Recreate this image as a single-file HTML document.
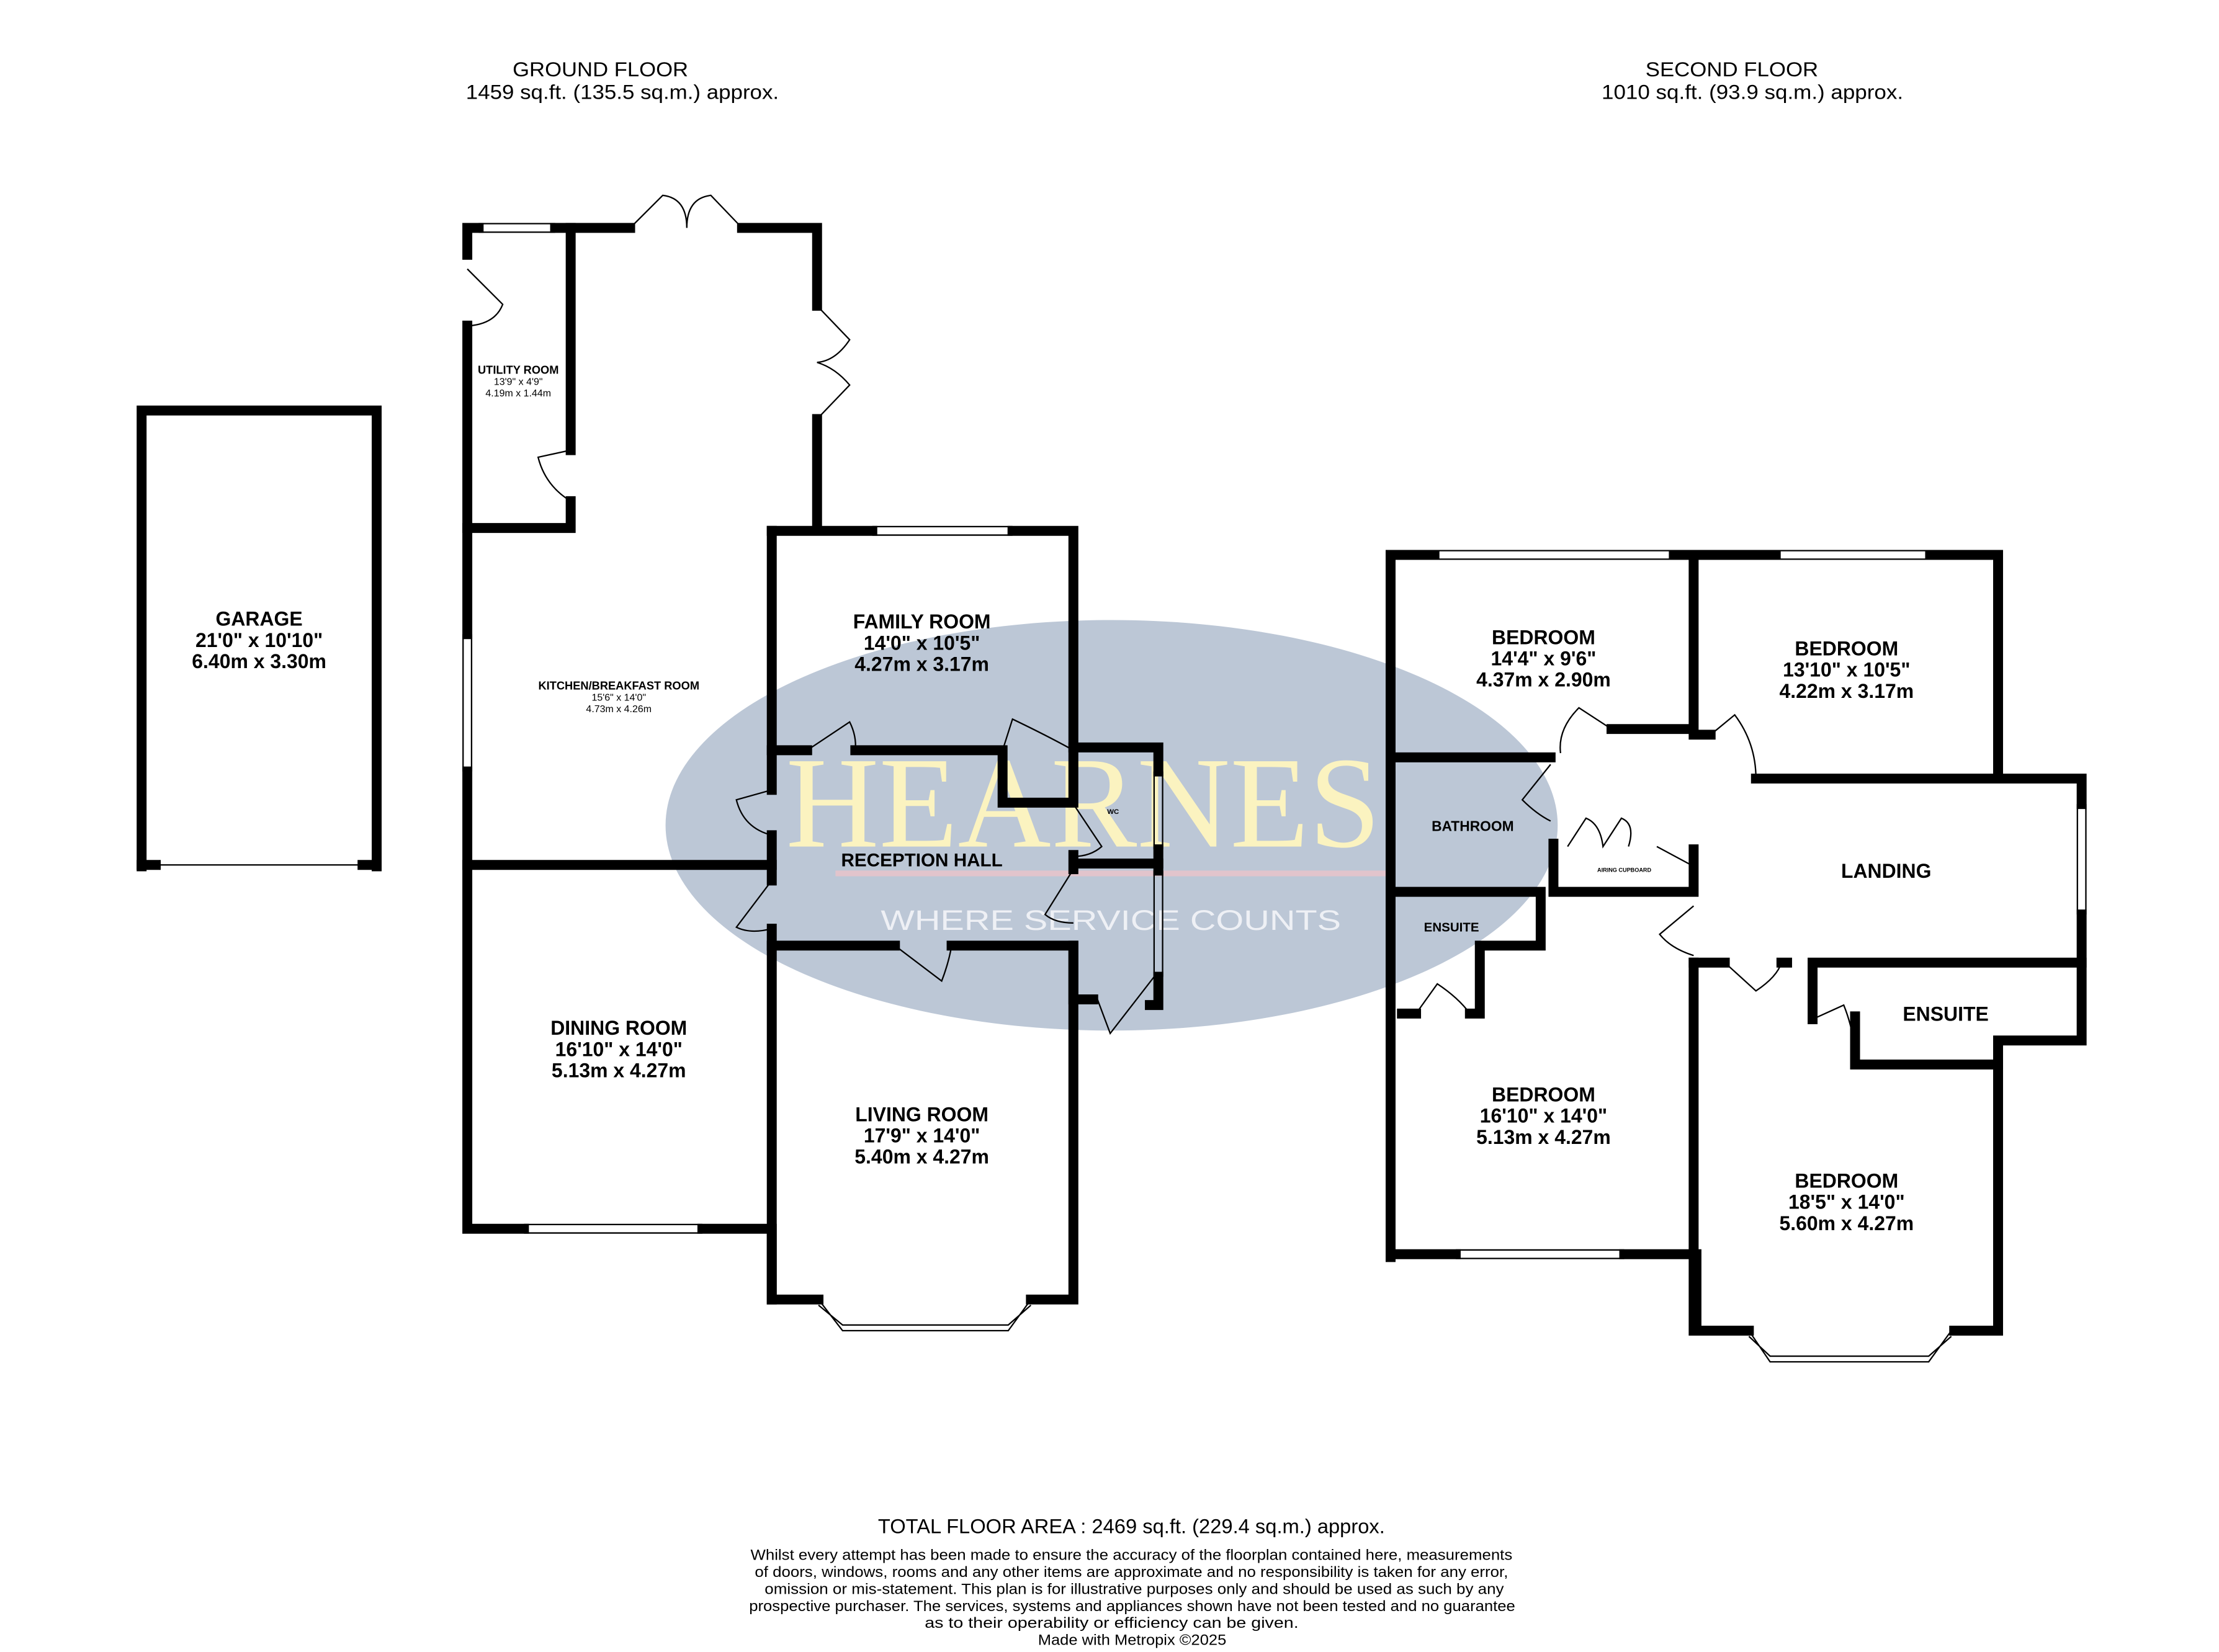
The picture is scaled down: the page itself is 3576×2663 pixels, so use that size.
<!DOCTYPE html>
<html><head><meta charset="utf-8"><style>
html,body{margin:0;padding:0;background:#fff}
svg{display:block}
text{font-family:"Liberation Sans",sans-serif;fill:#000}
.b{font-weight:bold;font-size:14px}
</style></head><body>
<svg width="3576" height="2663" viewBox="0 0 1567 1167" preserveAspectRatio="none" xmlns="http://www.w3.org/2000/svg">
<rect width="1567" height="1167" fill="#fff"/>
<!-- watermark -->
<ellipse cx="785" cy="583" rx="315" ry="145" fill="#bcc7d6"/>
<text x="555" y="598" textLength="420" lengthAdjust="spacingAndGlyphs" style="font-family:'Liberation Serif',serif;font-size:92px;fill:#fbf3c0">HEARNES</text>
<rect x="590" y="615" width="390" height="4" fill="#e2c4cc"/>
<text x="622" y="657" textLength="325" lengthAdjust="spacingAndGlyphs" style="font-size:20px;fill:#eef0f5">WHERE SERVICE COUNTS</text>

<g stroke="#000" stroke-width="7" fill="none" stroke-linecap="square">
<path d="M100 612 V290 H266 V612"/>
<path d="M100 611 H110 M256 611 H266"/>
<path d="M330 180 V161 H338"/>
<path d="M392 161 H445 M524 161 H577 V216"/>
<path d="M577 296 V373"/>
<path d="M330 230 V448 M330 545 V868 H370 M496 868 H545 V918 H578"/>
<path d="M728 918 H758 V668"/>
<path d="M403 161 V318 M403 354 V373 H330"/>
<path d="M330 611 H545"/>
<path d="M545 375 V558 M545 590 V622 M545 656 V918"/>
<path d="M545 375 H616 M715 375 H758 V528"/>
<path d="M545 530 H570 M604 530 H708 V567 H758 V528 H818 V545 M818 600 V615 M818 690 V710 H812"/>
<path d="M758 610 H818 M758 604 V614"/>
<path d="M545 668 H632 M672 668 H758 M758 668 V700 M758 706 H772"/>
<path d="M982 888 V392 H1013 M1182 392 H1254 M1363 392 H1411 V550 H1470 V568 M1470 646 V735 H1411 V940 H1380"/>
<path d="M1235 940 H1198 V886 H1147 M1028 886 H982"/>
<path d="M1196 392 V515 H1138 M1196 515 V519 H1208 M1240 550 H1411"/>
<path d="M982 535 H1095 M982 630 H1088 V668 H1045 V716 H1038"/>
<path d="M1000 716 H990"/>
<path d="M1196 600 V630 H1097 V596 M1196 680 V940"/>
<path d="M1280 680 H1470 M1280 680 V720 M1310 718 V752 H1411"/>
<path d="M1196 680 H1218"/>
<path d="M1258 680 H1262"/>
</g>
<g stroke="#000" stroke-width="1" fill="none">
<path d="M112 611 H254"/>
<path d="M338 158 H392 M338 164 H392"/>
<path d="M327 448 V545 M333 448 V545"/>
<path d="M616 372 H715 M616 378 H715"/>
<path d="M370 865 H496 M370 871 H496"/>
<path d="M815 545 V600 M821 545 V600 M815 615 V690 M821 615 V690"/>
<path d="M578 918 L595 940 H712 L728 918 M578 922 L595 936 H712 L728 922"/>
<path d="M1013 389 H1182 M1013 395 H1182 M1254 389 H1363 M1254 395 H1363"/>
<path d="M1467 568 V646 M1473 568 V646"/>
<path d="M979 545 V625 M985 545 V625 M979 650 V712 M985 650 V712"/>
<path d="M1028 883 H1147 M1028 889 H1147"/>
<path d="M1235 940 L1250 962 H1362 L1378 940 M1235 944 L1250 958 H1362 L1378 944"/>
<path d="M445 161 L468 138 Q485 140 485 161 Q485 140 502 138 L524 161"/>
<path d="M577 216 L600 240 Q590 255 577 256 Q590 260 600 272 L577 296"/>
<path d="M330 190 L355 215 Q350 228 333 230"/>
<path d="M403 318 L380 323 Q385 343 403 354"/>
<path d="M570 530 L600 510 Q605 520 604 530"/>
<path d="M708 530 L715 508 Q740 520 758 530"/>
<path d="M545 558 L520 565 Q525 585 545 590"/>
<path d="M545 622 L520 655 Q530 660 545 656"/>
<path d="M632 668 L665 693 Q670 680 672 668"/>
<path d="M758 614 L738 646 Q745 652 758 652"/>
<path d="M758 568 L778 598 Q770 605 758 605"/>
<path d="M775 706 L784 730 L815 690"/>
<path d="M1138 515 L1115 500 Q1100 515 1102 532"/>
<path d="M1208 519 L1225 505 Q1240 525 1240 550"/>
<path d="M1095 540 L1075 565 Q1085 575 1095 580"/>
<path d="M1107 598 L1120 578 Q1130 582 1132 598 L1145 578 Q1155 582 1150 598"/>
<path d="M1170 598 L1196 612"/>
<path d="M1196 640 L1172 660 Q1180 670 1196 675"/>
<path d="M1218 680 L1240 700 Q1255 690 1258 680"/>
<path d="M1280 720 L1302 710 Q1310 730 1310 750"/>
<path d="M1000 716 L1015 695 Q1030 705 1038 716"/>
</g>

<text x="362" y="54" textLength="124" lengthAdjust="spacingAndGlyphs" style="font-size:14px">GROUND FLOOR</text>
<text x="329" y="70" textLength="221" lengthAdjust="spacingAndGlyphs" style="font-size:14px">1459 sq.ft. (135.5 sq.m.) approx.</text>
<text x="1162" y="54" textLength="122" lengthAdjust="spacingAndGlyphs" style="font-size:14px">SECOND FLOOR</text>
<text x="1131" y="70" textLength="213" lengthAdjust="spacingAndGlyphs" style="font-size:14px">1010 sq.ft. (93.9 sq.m.) approx.</text>

<g text-anchor="middle">
<text x="183" y="442" class="b">GARAGE</text><text x="183" y="457" class="b">21'0"  x 10'10"</text><text x="183" y="472" class="b">6.40m  x 3.30m</text>
<text x="651" y="444" class="b">FAMILY ROOM</text><text x="651" y="459" class="b">14'0"  x 10'5"</text><text x="651" y="474" class="b">4.27m  x 3.17m</text>
<text x="437" y="731" class="b">DINING ROOM</text><text x="437" y="746" class="b">16'10"  x 14'0"</text><text x="437" y="761" class="b">5.13m  x 4.27m</text>
<text x="651" y="792" class="b">LIVING ROOM</text><text x="651" y="807" class="b">17'9"  x 14'0"</text><text x="651" y="822" class="b">5.40m  x 4.27m</text>
<text x="651" y="612" class="b" style="font-size:13px">RECEPTION HALL</text>
<text x="1090" y="455" class="b">BEDROOM</text><text x="1090" y="470" class="b">14'4"  x 9'6"</text><text x="1090" y="485" class="b">4.37m  x 2.90m</text>
<text x="1304" y="463" class="b">BEDROOM</text><text x="1304" y="478" class="b">13'10"  x 10'5"</text><text x="1304" y="493" class="b">4.22m  x 3.17m</text>
<text x="1090" y="778" class="b">BEDROOM</text><text x="1090" y="793" class="b">16'10"  x 14'0"</text><text x="1090" y="808" class="b">5.13m  x 4.27m</text>
<text x="1304" y="839" class="b">BEDROOM</text><text x="1304" y="854" class="b">18'5"  x 14'0"</text><text x="1304" y="869" class="b">5.60m  x 4.27m</text>
<text x="1332" y="620" class="b">LANDING</text>
<text x="1374" y="721" class="b">ENSUITE</text>
<text x="1040" y="587" style="font-size:10px;font-weight:bold">BATHROOM</text>
<text x="1025" y="658" style="font-size:9px;font-weight:bold">ENSUITE</text>
<text x="1147" y="616" style="font-size:4px;font-weight:bold">AIRING CUPBOARD</text>
<text x="366" y="264" style="font-size:8px;font-weight:bold">UTILITY ROOM</text>
<text x="366" y="272" style="font-size:7px">13'9"  x 4'9"</text>
<text x="366" y="280" style="font-size:7px">4.19m  x 1.44m</text>
<text x="437" y="487" style="font-size:8px;font-weight:bold">KITCHEN/BREAKFAST ROOM</text>
<text x="437" y="495" style="font-size:7px">15'6"  x 14'0"</text>
<text x="437" y="503" style="font-size:7px">4.73m  x 4.26m</text>
<text x="786" y="575" style="font-size:5px;font-weight:bold">WC</text>
</g>

<text x="620" y="1083" textLength="358" lengthAdjust="spacingAndGlyphs" style="font-size:14px">TOTAL FLOOR AREA : 2469 sq.ft. (229.4 sq.m.) approx.</text>
<g style="font-size:10.5px">
<text x="530" y="1102" textLength="538" lengthAdjust="spacingAndGlyphs">Whilst every attempt has been made to ensure the accuracy of the floorplan contained here, measurements</text>
<text x="533" y="1114" textLength="532" lengthAdjust="spacingAndGlyphs">of doors, windows, rooms and any other items are approximate and no responsibility is taken for any error,</text>
<text x="540" y="1126" textLength="522" lengthAdjust="spacingAndGlyphs">omission or mis-statement. This plan is for illustrative purposes only and should be used as such by any</text>
<text x="529" y="1138" textLength="541" lengthAdjust="spacingAndGlyphs">prospective purchaser. The services, systems and appliances shown have not been tested and no guarantee</text>
<text x="653" y="1150" textLength="264" lengthAdjust="spacingAndGlyphs">as to their operability or efficiency can be given.</text>
<text x="733" y="1162" textLength="133" lengthAdjust="spacingAndGlyphs">Made with Metropix ©2025</text>
</g>
</svg>
</body></html>
